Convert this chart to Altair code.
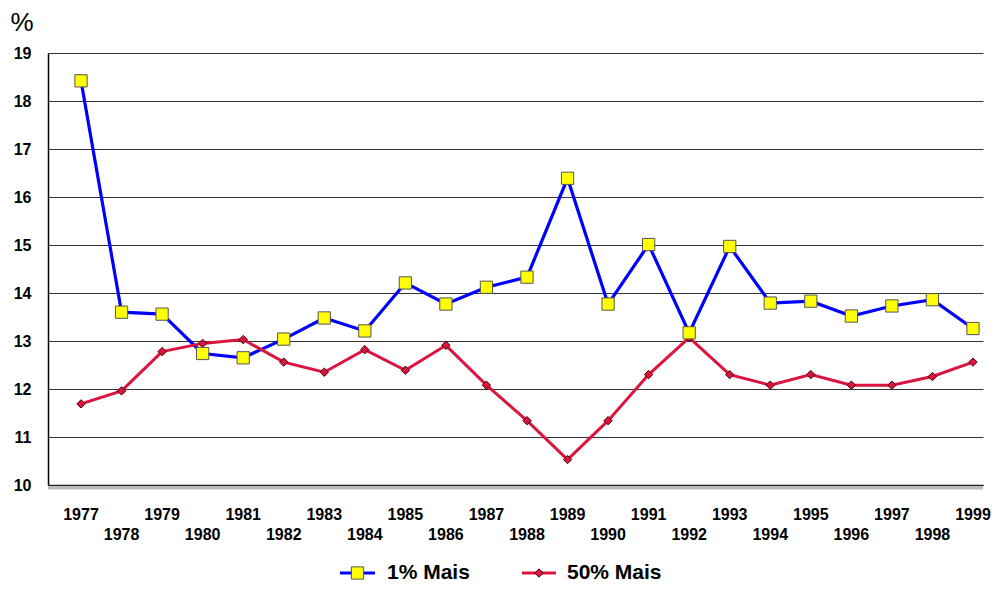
import altair as alt
import pandas as pd

years = list(range(1977, 2000))
top1 = [18.42, 13.6, 13.56, 12.74, 12.65, 13.04, 13.48, 13.21, 14.21, 13.77, 14.12, 14.33,
        16.39, 13.77, 15.01, 13.17, 14.97, 13.79, 13.83, 13.52, 13.73, 13.86, 13.26]
top50 = [11.69, 11.96, 12.78, 12.95, 13.03, 12.56, 12.35, 12.82, 12.39, 12.91, 12.08, 11.34,
         10.53, 11.34, 12.3, 13.07, 12.3, 12.08, 12.3, 12.08, 12.08, 12.26, 12.56]
series_names = ["1% Mais", "50% Mais"]

W, H = 935, 432
FONT = "Liberation Sans"

df1 = pd.DataFrame({"ano": years, "v": top1})
df50 = pd.DataFrame({"ano": years, "v": top50})
dlab = pd.DataFrame({"ano": years, "lab": [str(y) for y in years],
                     "row": [0 if (y - 1977) % 2 == 0 else 1 for y in years]})

xs = alt.Scale(domain=[1976.186, 1999.247], nice=False, zero=False)
ys = alt.Scale(domain=[10, 19], nice=False, zero=False)

X = alt.X("ano:Q", scale=xs, axis=alt.Axis(labels=False, ticks=False, grid=False,
                                           domain=True, domainColor="#222", domainWidth=1.5, title=None))
Y = alt.Y("v:Q", scale=ys, axis=alt.Axis(values=list(range(10, 20)), grid=True, gridColor="#333",
                                         gridWidth=1.2, ticks=False, domain=True, domainColor="#000",
                                         domainWidth=1.5, labelFont=FONT, labelFontSize=16,
                                         labelFontWeight="bold", labelColor="#000", labelPadding=17,
                                         title="%", titleAngle=0, titleX=-38, titleY=-31,
                                         titleAlign="left", titleBaseline="middle", titleFontSize=26,
                                         titleFontWeight="normal", titleFont=FONT, titleColor="#000"))

base_line1 = alt.Chart(df1).mark_line(color="#0000FF", strokeWidth=3.2).encode(x=X, y=Y)
pts1 = alt.Chart(df1).mark_point(shape="square", filled=True, fill="#FFFF00", stroke="#555",
                                 strokeWidth=1, size=150, opacity=1).encode(x="ano:Q", y="v:Q")
line50 = alt.Chart(df50).mark_line(color="#DC1440", strokeWidth=3).encode(x="ano:Q", y="v:Q")
pts50 = alt.Chart(df50).mark_point(shape="diamond", filled=True, fill="#DC1440", stroke="#400",
                                   strokeWidth=1, size=70, opacity=1).encode(x="ano:Q", y="v:Q")

shadow = alt.Chart(pd.DataFrame({"a": [0]})).mark_rule(color="#bbb", strokeWidth=3).encode(
    x=alt.value(0), x2=alt.value(W), y=alt.value(H + 3))

lab0 = alt.Chart(dlab).transform_filter("datum.row == 0").mark_text(
    font=FONT, fontSize=16, fontWeight="bold", color="#000", baseline="middle").encode(
    x="ano:Q", y=alt.value(H + 30), text="lab:N")
lab1 = alt.Chart(dlab).transform_filter("datum.row == 1").mark_text(
    font=FONT, fontSize=16, fontWeight="bold", color="#000", baseline="middle").encode(
    x="ano:Q", y=alt.value(H + 50), text="lab:N")

LY = H + 88
leg_df = pd.DataFrame({"a": [0]})
leg_l1 = alt.Chart(leg_df).mark_rule(color="#0000FF", strokeWidth=3).encode(
    x=alt.value(292), x2=alt.value(327), y=alt.value(LY))
leg_p1 = alt.Chart(leg_df).mark_point(shape="square", filled=True, fill="#FFFF00", stroke="#555",
                                      strokeWidth=1, size=150, opacity=1).encode(
    x=alt.value(309.5), y=alt.value(LY))
leg_t1 = alt.Chart(leg_df).mark_text(font=FONT, fontSize=21, fontWeight="bold", color="#000",
                                     align="left", baseline="middle", text=series_names[0]).encode(
    x=alt.value(339), y=alt.value(LY))
leg_l2 = alt.Chart(leg_df).mark_rule(color="#DC1440", strokeWidth=3).encode(
    x=alt.value(474), x2=alt.value(508), y=alt.value(LY))
leg_p2 = alt.Chart(leg_df).mark_point(shape="diamond", filled=True, fill="#DC1440", stroke="#400",
                                      strokeWidth=1, size=70, opacity=1).encode(
    x=alt.value(491), y=alt.value(LY))
leg_t2 = alt.Chart(leg_df).mark_text(font=FONT, fontSize=21, fontWeight="bold", color="#000",
                                     align="left", baseline="middle", text=series_names[1]).encode(
    x=alt.value(519), y=alt.value(LY))

chart = alt.layer(base_line1, line50, pts50, pts1, shadow, lab0, lab1,
                  leg_l1, leg_p1, leg_t1, leg_l2, leg_p2, leg_t2).properties(
    width=W, height=H, autosize=alt.AutoSizeParams(type="none"),
    padding={"left": 40, "top": 45, "right": 8, "bottom": 100},
    background="#ffffff"
).configure_view(stroke=None)

chart.save("out.html", embed_options={"renderer": "svg", "actions": False})
